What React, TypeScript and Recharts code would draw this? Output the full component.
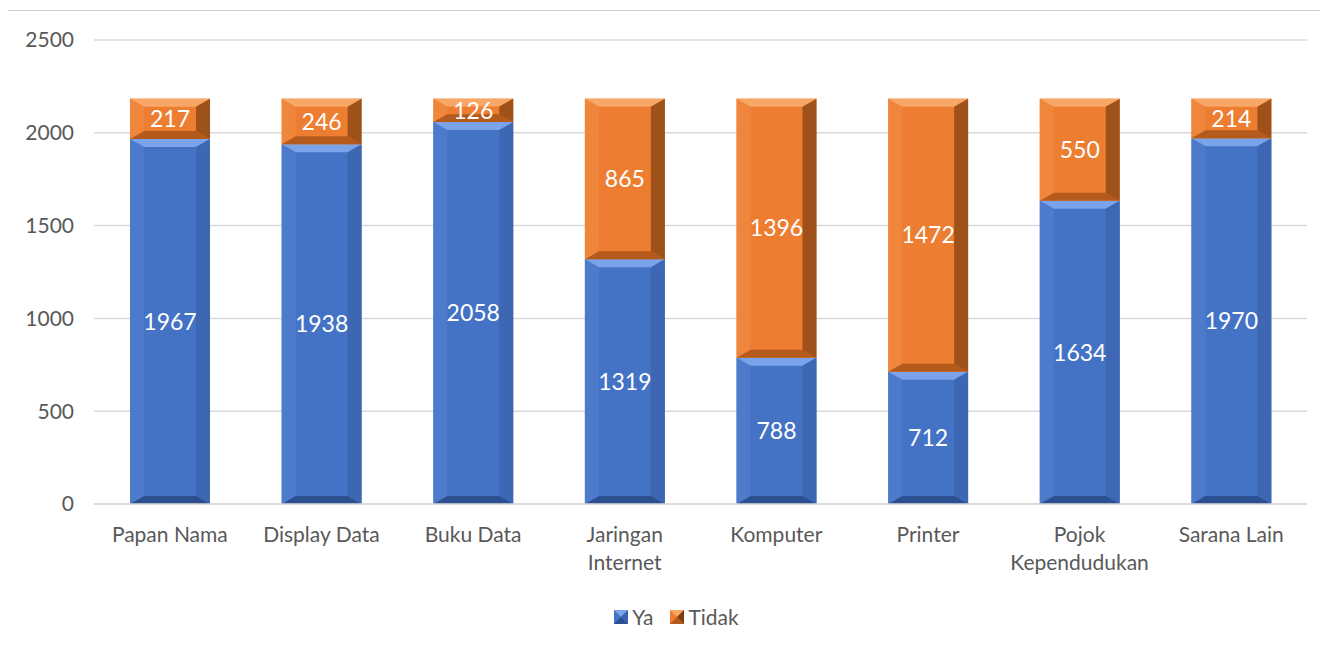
import { BarChart, Bar, XAxis, YAxis, CartesianGrid, LabelList, Legend } from 'recharts'

const categories = [
  'Papan Nama',
  'Display Data',
  'Buku Data',
  'Jaringan Internet',
  'Komputer',
  'Printer',
  'Pojok Kependudukan',
  'Sarana Lain',
]
const ya = [1967, 1938, 2058, 1319, 788, 712, 1634, 1970]
const tidak = [217, 246, 126, 865, 1396, 1472, 550, 214]
const yTicks = [0, 500, 1000, 1500, 2000, 2500]

const data = categories.map((name, i) => ({ name, ya: ya[i], tidak: tidak[i] }))

const FONT = 'Lato, "Liberation Sans", sans-serif'

const palette = {
  ya: { main: '#4472C4', top: '#7aa3ea', bottom: '#2c4f8f', left: '#5581d0', right: '#3a63ad' },
  tidak: { main: '#ED7D31', top: '#f9a766', bottom: '#b35a1c', left: '#f18c45', right: '#7c3e10' },
}

type Pal = typeof palette.ya

// bevelled bar like the office "circle" bevel
function bevelShape(pal: Pal) {
  return (props: any) => {
    const { x, y, width, height } = props
    if (!height || height <= 0) return <g />
    const bx = Math.min(14, width / 3)
    const by = Math.min(8, height / 3)
    const x2 = x + width
    const y2 = y + height
    return (
      <g>
        <rect x={x} y={y} width={width} height={height} fill={pal.main} />
        <polygon points={`${x},${y} ${x2},${y} ${x2 - bx},${y + by} ${x + bx},${y + by}`} fill={pal.top} />
        <polygon points={`${x},${y2} ${x2},${y2} ${x2 - bx},${y2 - by} ${x + bx},${y2 - by}`} fill={pal.bottom} />
        <polygon points={`${x},${y} ${x + bx},${y + by} ${x + bx},${y2 - by} ${x},${y2}`} fill={pal.left} opacity={0.6} />
        <polygon points={`${x2},${y} ${x2 - bx},${y + by} ${x2 - bx},${y2 - by} ${x2},${y2}`} fill={pal.right} opacity={0.7} />
      </g>
    )
  }
}

function CategoryTick(props: any) {
  const { x, y, payload } = props
  const label: string = payload.value
  const lines = label === 'Jaringan Internet' ? ['Jaringan', 'Internet']
    : label === 'Pojok Kependudukan' ? ['Pojok', 'Kependudukan'] : [label]
  return (
    <g transform={`translate(${x},${y})`}>
      {lines.map((l, i) => (
        <text key={i} x={0} y={i * 28} dy={30} textAnchor="middle" fill="#595959" fontSize={21} fontFamily={FONT}>
          {l}
        </text>
      ))}
    </g>
  )
}

function LegendIcon({ pal }: { pal: Pal }) {
  return (
    <svg width={14} height={14} style={{ verticalAlign: 'middle' }}>
      <rect x={0} y={0} width={14} height={14} fill={pal.main} />
      <polygon points="0,0 14,0 7,7" fill={pal.top} />
      <polygon points="0,14 14,14 7,7" fill={pal.bottom} />
      <polygon points="14,0 14,14 7,7" fill={pal.right} />
    </svg>
  )
}

function renderLegend() {
  return (
    <div style={{ display: 'flex', justifyContent: 'center', gap: 17, fontFamily: FONT, fontSize: 21, color: '#595959', paddingLeft: 38 }}>
      <span style={{ display: 'flex', alignItems: 'center', gap: 4 }}>
        <LegendIcon pal={palette.ya} /> Ya
      </span>
      <span style={{ display: 'flex', alignItems: 'center', gap: 4 }}>
        <LegendIcon pal={palette.tidak} /> Tidak
      </span>
    </div>
  )
}

export default function App() {
  return (
    <div style={{ position: 'relative', top: 2, left: -1, width: 1322, height: 642, border: '1px solid #d0d0d0', boxSizing: 'border-box', background: '#fff' }}>
      <BarChart
        width={1320}
        height={640}
        data={data}
        margin={{ top: 29, right: 21, left: 0, bottom: 36 }}
      >
        <CartesianGrid vertical={false} stroke="#d9d9d9" strokeWidth={1.5} />
        <XAxis
          dataKey="name"
          tick={<CategoryTick />}
          tickLine={false}
          axisLine={{ stroke: '#d9d9d9', strokeWidth: 1.5 }}
          interval={0}
          height={86}
        />
        <YAxis
          domain={[0, 2500]}
          ticks={yTicks}
          width={86}
          tickLine={false}
          axisLine={false}
          tickMargin={14}
          tick={{ fill: '#595959', fontSize: 21, fontFamily: FONT }}
        />
        <Legend verticalAlign="bottom" content={renderLegend} wrapperStyle={{ bottom: 22 }} />
        <Bar dataKey="ya" stackId="a" barSize={80} shape={bevelShape(palette.ya)} isAnimationActive={false}>
          <LabelList dataKey="ya" position="center" fill="#ffffff" fontSize={23} fontFamily={FONT} />
        </Bar>
        <Bar dataKey="tidak" stackId="a" barSize={80} shape={bevelShape(palette.tidak)} isAnimationActive={false}>
          <LabelList dataKey="tidak" position="center" fill="#ffffff" fontSize={23} fontFamily={FONT} />
        </Bar>
      </BarChart>
    </div>
  )
}
